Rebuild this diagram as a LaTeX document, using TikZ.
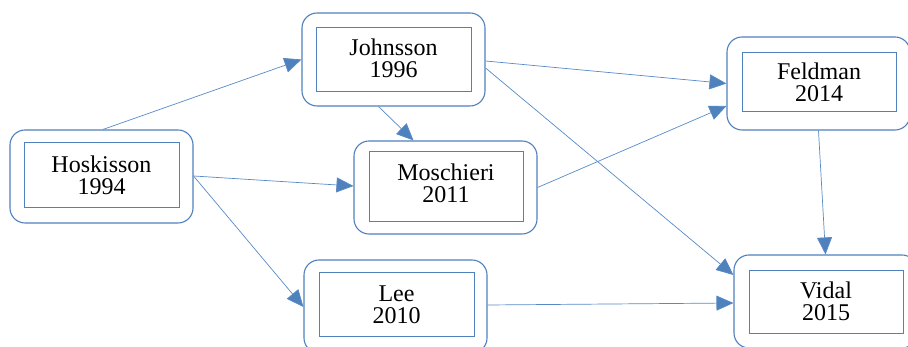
\documentclass[tikz,border=0pt]{standalone}
\usepackage{fontspec}
\setmainfont{Liberation Serif}
\usetikzlibrary{arrows.meta}
\definecolor{boxblue}{RGB}{79,129,189}
\definecolor{lineblue}{RGB}{88,138,200}
\begin{document}
\begin{tikzpicture}[x=1pt,y=1pt,
  outerbox/.style={draw=boxblue, line width=1.1pt, rounded corners=15pt, minimum width=183pt, minimum height=93pt, inner sep=0pt},
  innerbox/.style={draw=boxblue, line width=1pt, inner sep=0pt},
  lbl/.style={align=center, font=\fontsize{24}{22}\selectfont, inner sep=0pt},
  conn/.style={draw=lineblue, line width=0.7pt, -{Triangle[length=17pt,width=15pt,fill=boxblue]}}]
\useasboundingbox[fill=white] (0,0) rectangle (908,347);
% outer boxes (image y -> 347-y)
\node[outerbox] (hos) at (101.5,170.5) {};
\node[outerbox] (joh) at (393.5,287.5) {};
\node[outerbox] (mos) at (445.5,159.5) {};
\node[outerbox] (lee) at (395.5,40.5) {};
\node[outerbox] (fel) at (818.5,263.5) {};
\node[outerbox] (vid) at (825.5,45.5) {};
% inner boxes
\node[innerbox, minimum width=155pt, minimum height=65pt] (hosi) at (101.5,171.5) {};
\node[innerbox, minimum width=155pt, minimum height=64pt] (johi) at (393.5,287) {};
\node[innerbox, minimum width=154pt, minimum height=70pt] (mosi) at (446,160) {};
\node[innerbox, minimum width=155pt, minimum height=64pt] (leei) at (396.5,42) {};
\node[innerbox, minimum width=154pt, minimum height=59pt] (feli) at (819,264.5) {};
\node[innerbox, minimum width=154pt, minimum height=63pt] (vidi) at (826,44.5) {};
% labels
\node[lbl] (host) at (hosi.center) {Hoskisson\\1994};
\node[lbl] (joht) at ([yshift=1.5pt]johi.center) {Johnsson\\1996};
\node[lbl] (most) at ([yshift=4pt]mosi.center) {Moschieri\\2011};
\node[lbl] (leet) at (leei.center) {Lee\\2010};
\node[lbl] (felt) at (feli.center) {Feldman\\2014};
\node[lbl] (vidt) at ([yshift=1pt]vidi.center) {Vidal\\2015};
% connectors
\draw[conn] ([xshift=1.5pt]hos.north) -- (joh.west);
\draw[conn] ([yshift=0.5pt]hos.east) -- ([yshift=1.5pt]mos.west);
\draw[conn] ([yshift=0.5pt]hos.east) -- ([yshift=-0.5pt]lee.west);
\draw[conn] ([xshift=-15pt]joh.south) -- ([xshift=-32pt]mos.north);
\draw[conn] ([yshift=-1.5pt]joh.east) -- (fel.west);
\draw[conn] ([yshift=-8.5pt]joh.east) -- ([yshift=26.5pt]vid.west);
\draw[conn] (mos.east) -- ([yshift=-22.5pt]fel.west);
\draw[conn] ([yshift=1.5pt]lee.east) -- ([yshift=-1.5pt]vid.west);
\draw[conn] (fel.south) -- (vid.north);
\end{tikzpicture}
\end{document}
